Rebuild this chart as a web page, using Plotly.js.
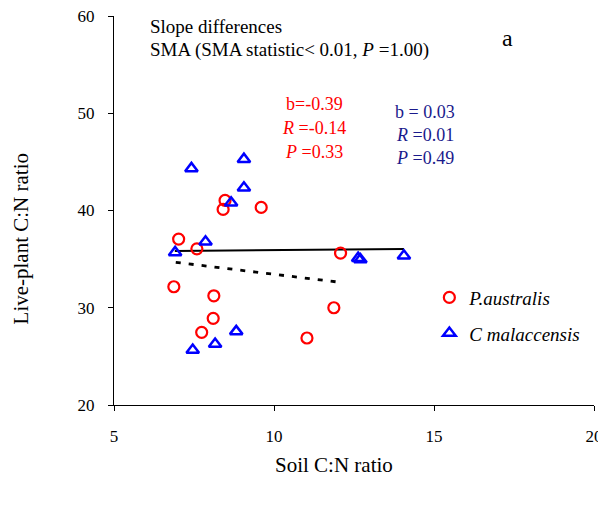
<!DOCTYPE html>
<html>
<head>
<meta charset="utf-8">
<script src="https://cdn.plot.ly/plotly-3.0.1.min.js"></script>
<style>html,body{margin:0;padding:0;background:#fff;}#chart{width:598px;height:507px;}</style>
</head>
<body>
<div id="chart"></div>
<script>
// P. australis (red circles)
const paX = [7.02, 7.59, 8.47, 8.41, 9.60, 6.87, 8.12, 8.10, 7.74, 11.03, 11.87, 12.08];
const paY = [37.06, 36.06, 41.04, 40.11, 40.32, 32.16, 31.23, 28.91, 27.47, 26.89, 30.00, 35.62];
// C. malaccensis (blue triangles)
const cmX = [7.42, 9.06, 9.06, 8.66, 7.86, 6.91, 8.82, 8.16, 7.46, 12.63, 12.70, 14.06];
const cmY = [44.33, 45.28, 42.33, 40.79, 36.78, 35.69, 27.57, 26.27, 25.65, 35.10, 34.95, 35.34];
// SMA fit lines
const cmFitX = [6.90, 14.06];
const cmFitY = [35.83, 36.04];
const paFitX = [6.93, 12.08];
const paFitY = [34.67, 32.61];
const xTicks = [5, 10, 15, 20];
const yTicks = [20, 30, 40, 50, 60];

const serif = "Liberation Serif, Times New Roman, serif";

const traces = [
  {x: cmFitX, y: cmFitY, mode: 'lines', line: {color: '#000', width: 2}, showlegend: false, hoverinfo: 'skip'},
  {x: paFitX, y: paFitY, mode: 'lines', line: {color: '#000', width: 2.8, dash: '5px,8px'}, showlegend: false, hoverinfo: 'skip'},
  {x: paX, y: paY, mode: 'markers', name: '<i>P.australis</i>', legendgroup: 'a',
   marker: {symbol: 'circle-open', size: 11, color: '#ff0000', line: {width: 2.2, color: '#ff0000'}}},
  {x: cmX, y: cmY, mode: 'markers', name: '<i>C malaccensis</i>', legendgroup: 'b',
   marker: {symbol: 'triangle-up-open', size: 11, color: '#0000ff', line: {width: 2.5, color: '#0000ff'}}}
];

const layout = {
  width: 598, height: 507,
  margin: {l: 114.4, r: 4.3, t: 15.8, b: 102},
  paper_bgcolor: '#fff', plot_bgcolor: '#fff',
  font: {family: serif, size: 17, color: '#000'},
  showlegend: true,
  legend: {x: 0.657, y: 0.23, xanchor: 'left', yanchor: 'middle', font: {family: serif, size: 19, color: '#000'},
           traceorder: 'grouped', tracegroupgap: 8, bgcolor: 'rgba(0,0,0,0)', itemwidth: 30},
  xaxis: {range: [5, 20], tickvals: xTicks, showgrid: false, zeroline: false,
          showline: true, linecolor: '#000', linewidth: 1, ticks: 'outside', ticklen: 5, tickcolor: '#000',
          ticklabelstandoff: 11, ticklabeloverflow: 'allow', tickfont: {family: serif, size: 17}},
  yaxis: {range: [20, 60], tickvals: yTicks, showgrid: false, zeroline: false,
          showline: true, linecolor: '#000', linewidth: 1, ticks: 'outside', ticklen: 5, tickcolor: '#000',
          ticklabelstandoff: 10, ticklabeloverflow: 'allow', tickfont: {family: serif, size: 17}},
  annotations: [
    {xref: 'paper', yref: 'paper', x: 0.458, y: -0.155, yanchor: 'middle', xanchor: 'center', showarrow: false,
     text: 'Soil C:N ratio', font: {family: serif, size: 21}},
    {xref: 'paper', yref: 'paper', x: -0.193, y: 0.4265, xanchor: 'center', yanchor: 'middle', showarrow: false, textangle: -90,
     text: 'Live-plant C:N ratio', font: {family: serif, size: 21}},
    {xref: 'paper', yref: 'paper', x: 0.070, y: 0.972, xanchor: 'left', yanchor: 'middle', showarrow: false,
     text: 'Slope differences', font: {family: serif, size: 19}},
    {xref: 'paper', yref: 'paper', x: 0.070, y: 0.912, xanchor: 'left', yanchor: 'middle', showarrow: false,
     text: 'SMA (SMA statistic< 0.01, <i>P</i> =1.00)', font: {family: serif, size: 19}},
    {xref: 'paper', yref: 'paper', x: 0.82, y: 0.943, xanchor: 'center', yanchor: 'middle', showarrow: false,
     text: 'a', font: {family: serif, size: 24}},
    {xref: 'paper', yref: 'paper', x: 0.417, y: 0.773, xanchor: 'center', yanchor: 'middle', showarrow: false,
     text: 'b=-0.39', font: {family: serif, size: 18, color: '#ff0000'}},
    {xref: 'paper', yref: 'paper', x: 0.417, y: 0.711, xanchor: 'center', yanchor: 'middle', showarrow: false,
     text: '<i>R</i> =-0.14', font: {family: serif, size: 18, color: '#ff0000'}},
    {xref: 'paper', yref: 'paper', x: 0.417, y: 0.650, xanchor: 'center', yanchor: 'middle', showarrow: false,
     text: '<i>P</i> =0.33', font: {family: serif, size: 18, color: '#ff0000'}},
    {xref: 'paper', yref: 'paper', x: 0.648, y: 0.752, xanchor: 'center', yanchor: 'middle', showarrow: false,
     text: 'b = 0.03', font: {family: serif, size: 18, color: '#1a1a8c'}},
    {xref: 'paper', yref: 'paper', x: 0.648, y: 0.694, xanchor: 'center', yanchor: 'middle', showarrow: false,
     text: '<i>R</i> =0.01', font: {family: serif, size: 18, color: '#1a1a8c'}},
    {xref: 'paper', yref: 'paper', x: 0.648, y: 0.634, xanchor: 'center', yanchor: 'middle', showarrow: false,
     text: '<i>P</i> =0.49', font: {family: serif, size: 18, color: '#1a1a8c'}}
  ]
};

Plotly.newPlot('chart', traces, layout, {displayModeBar: false, staticPlot: true});
</script>
</body>
</html>
